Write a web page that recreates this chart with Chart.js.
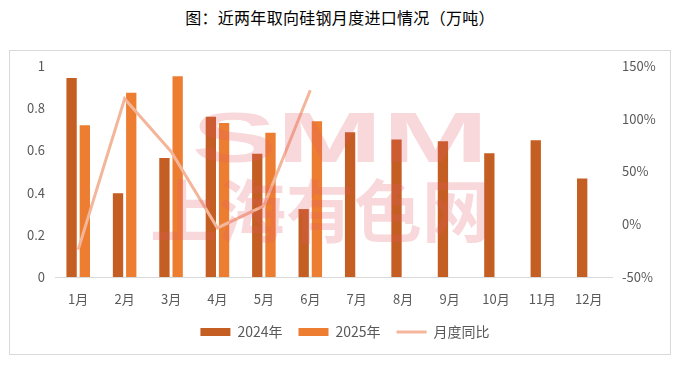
<!DOCTYPE html>
<html><head><meta charset="utf-8">
<script src="https://cdn.jsdelivr.net/npm/chart.js@4/dist/chart.umd.min.js"></script>
<style>
html,body{margin:0;padding:0;background:#fff;}
#wrap{position:relative;width:680px;height:367px;}
#title{position:absolute;left:0;top:5px;width:680px;text-align:center;font:16px "Noto Sans CJK SC",sans-serif;letter-spacing:0.3px;color:#000;}
#box{position:absolute;left:9px;top:50px;width:662px;height:305px;border:1px solid #d9d9d9;box-sizing:border-box;}
canvas{position:absolute;left:0;top:0;}
</style></head>
<body><div id="wrap"><div id="title">图：近两年取向硅钢月度进口情况（万吨）</div><div id="box"></div><canvas id="c" width="680" height="367"></canvas></div>
<script>
const months = ['1月','2月','3月','4月','5月','6月','7月','8月','9月','10月','11月','12月'];
const imports2024 = [0.943, 0.397, 0.564, 0.759, 0.584, 0.322, 0.686, 0.652, 0.643, 0.586, 0.648, 0.467];
const imports2025 = [0.719, 0.873, 0.952, 0.730, 0.684, 0.738, null, null, null, null, null, null];
const yoy = [-0.24, 1.19, 0.69, -0.035, 0.175, 1.27, null, null, null, null, null, null];
const leftTicks = [0, 0.2, 0.4, 0.6, 0.8, 1];
const rightTicks = [-0.5, 0, 0.5, 1, 1.5];

const tickFont = {family: '"Noto Sans CJK SC", sans-serif', size: 13};
const watermark = {
  id: 'watermark',
  afterDatasetsDraw(chart) {
    const ctx = chart.ctx;
    ctx.save();
    ctx.fillStyle = 'rgba(226,90,105,0.24)';
    ctx.textAlign = 'center';
    ctx.textBaseline = 'alphabetic';
    ctx.font = 'bold 82px "Liberation Sans", sans-serif';
    ctx.translate(340, 162);
    ctx.scale(1.55, 0.85);
    ctx.fillText('SMM', 0, 0);
    ctx.restore();
    ctx.save();
    ctx.fillStyle = 'rgba(226,90,105,0.24)';
    ctx.textAlign = 'center';
    ctx.font = 'bold 68px "Noto Sans CJK SC", sans-serif';
    ctx.textBaseline = 'alphabetic';
    ctx.fillText('上海有色网', 320, 237);
    ctx.restore();
  }
};

new Chart(document.getElementById('c'), {
  data: {
    labels: months,
    datasets: [
      {type: 'line', label: '月度同比', data: yoy, yAxisID: 'y1', borderColor: '#F4B69A', backgroundColor: '#F4B69A', borderWidth: 3, pointRadius: 0, pointStyle: 'line', order: 0, spanGaps: false},
      {type: 'bar', label: '2024年', data: imports2024, yAxisID: 'y', backgroundColor: '#C55E22', pointStyle: 'rect', categoryPercentage: 0.57, barPercentage: 0.78, order: 1},
      {type: 'bar', label: '2025年', data: imports2025, yAxisID: 'y', backgroundColor: '#ED7D31', pointStyle: 'rect', categoryPercentage: 0.57, barPercentage: 0.78, order: 1}
    ]
  },
  options: {
    responsive: false,
    animation: false,
    layout: {padding: {left: 20, right: 10, top: 66, bottom: 18}},
    plugins: {
      title: {display: false},
      tooltip: {enabled: false},
      legend: {
        position: 'bottom',
        labels: {
          usePointStyle: true, pointStyleWidth: 30, boxHeight: 8, padding: 16,
          color: '#595959', font: {family: '"Noto Sans CJK SC", sans-serif', size: 14},
          sort: (a, b) => ['2024年','2025年','月度同比'].indexOf(a.text) - ['2024年','2025年','月度同比'].indexOf(b.text)
        }
      }
    },
    scales: {
      x: {
        grid: {display: false, drawTicks: false},
        border: {display: true, color: '#d9d9d9'},
        ticks: {color: '#595959', font: tickFont, padding: 14},
        afterFit(s) { s.height = 32; }
      },
      y: {
        position: 'left', min: 0, max: 1,
        afterBuildTicks(s) { s.ticks = leftTicks.map(v => ({value: v})); },
        grid: {display: false, drawTicks: false},
        border: {display: false},
        ticks: {color: '#595959', font: tickFont, padding: 10, callback: v => String(v)},
        afterFit(s) { s.width = 35; }
      },
      y1: {
        position: 'right', min: -0.5, max: 1.5,
        afterBuildTicks(s) { s.ticks = rightTicks.map(v => ({value: v})); },
        grid: {display: false, drawTicks: false},
        border: {display: false},
        ticks: {color: '#595959', font: tickFont, padding: 10, callback: v => Math.round(v * 100) + '%'},
        afterFit(s) { s.width = 58; }
      }
    }
  },
  plugins: [watermark]
});
</script></body></html>
